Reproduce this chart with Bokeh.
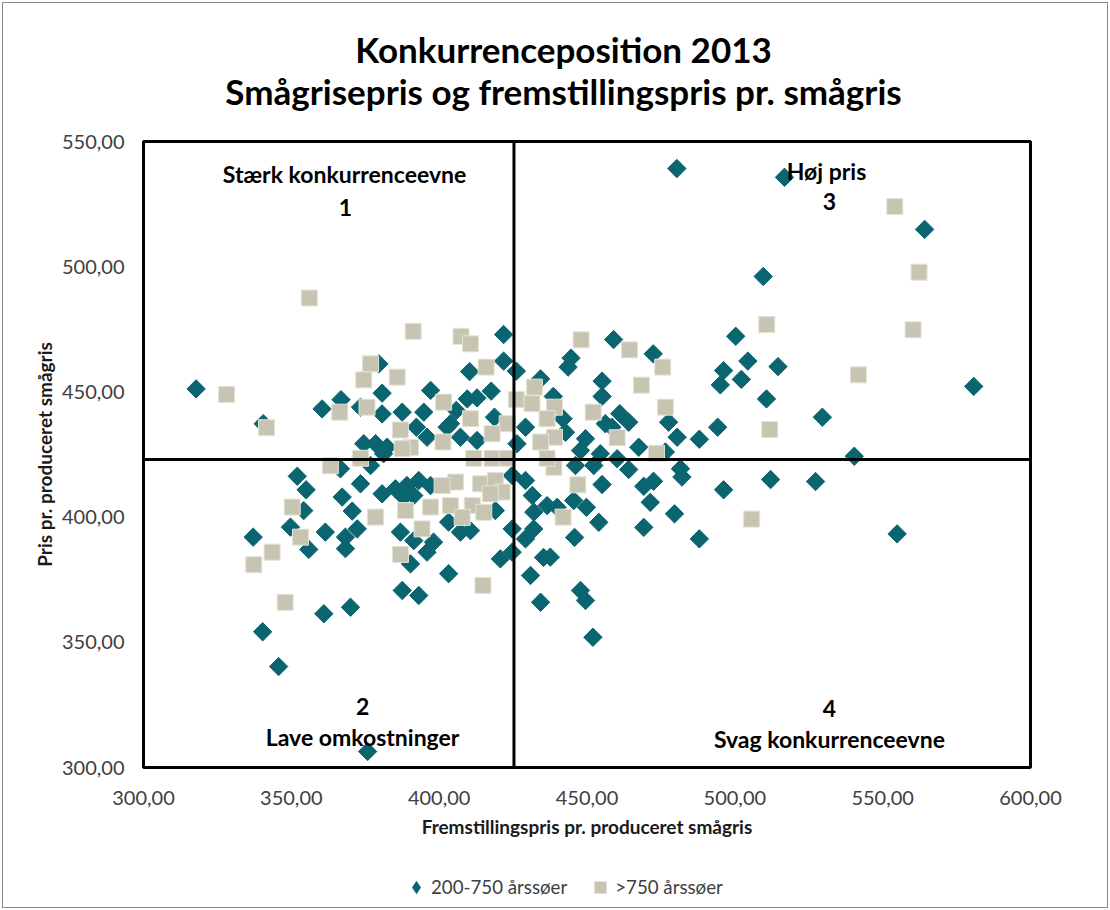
import math
from bokeh.plotting import figure
from bokeh.layouts import column
from bokeh.models import Range1d, Label, Legend, LegendItem, FixedTicker, Span
from bokeh.embed import file_html
from bokeh.resources import INLINE

# ---------------- data ----------------
title_line1 = "Konkurrenceposition 2013"
title_line2 = "Smågrisepris og fremstillingspris pr. smågris"
x_title = "Fremstillingspris pr. produceret smågris"
y_title = "Pris pr. produceret smågris"
series_names = ["200-750 årssøer", ">750 årssøer"]

x_ticks = [300, 350, 400, 450, 500, 550, 600]
y_ticks = [300, 350, 400, 450, 500, 550]

# quadrant dividers (averages)
cross_x = 425.3
cross_y = 423.0

# 200-750 årssøer (diamonds)
small_x = [480.4, 516.8, 564.2, 509.6, 500.3, 504.4, 496.2, 502.2, 495.1, 514.6, 510.7, 580.8,
           529.6, 494.2, 488.0, 540.4, 512.1, 496.2, 527.3, 488.0, 554.9,
           459.0, 472.4, 444.6, 443.6, 455.1, 455.1, 438.6, 441.9, 461.1, 464.1, 456.2, 477.6,
           480.5, 467.5, 449.5, 442.7, 476.5, 454.5, 447.8, 458.4,
           460.2, 464.1, 481.6, 482.1, 472.5, 469.2, 455.1, 452.3, 446.1, 471.4, 449.8, 445.5,
           439.9, 479.6, 454.0, 469.2, 445.8, 437.6, 447.8, 449.5, 452.0,
           421.8, 421.8, 410.3, 426.1, 434.3, 417.6, 409.5, 412.8, 405.8, 418.7, 429.2, 403.8,
           407.2, 426.3, 412.8,
           403.2, 407.2, 410.6, 419.0, 424.7, 429.2, 431.5, 432.0, 436.5, 424.7, 432.0, 429.2,
           424.7, 420.7, 435.3, 430.9, 403.2, 434.3,
           379.6, 380.7, 397.1, 366.8, 360.4, 373.4, 380.7, 387.5, 394.8, 392.3, 395.9, 374.5,
           378.5, 382.4, 402.7,
           381.2, 366.6, 376.8, 373.4, 397.1, 367.2, 380.7, 385.2, 389.1, 393.1, 388.0, 391.4,
           370.6, 361.5, 372.3, 368.3, 386.9, 391.4, 398.1, 368.3, 395.9, 390.3, 387.5, 393.1,
           370.0, 361.0,
           317.8, 340.5, 352.0, 355.0, 354.2, 349.7, 337.1, 355.9,
           340.3, 345.7, 375.8]
small_y = [539.2, 535.7, 514.9, 496.1, 472.2, 462.3, 458.5, 455.0, 452.8, 460.1, 447.2, 452.2,
           439.9, 435.9, 431.1, 424.3, 415.0, 410.9, 414.2, 391.3, 393.3,
           470.9, 465.2, 463.5, 459.9, 454.3, 448.2, 448.2, 439.3, 441.3, 437.9, 437.3, 437.9,
           431.9, 427.9, 431.3, 433.9, 426.0, 425.3, 426.6, 435.9,
           423.3, 419.0, 419.3, 416.0, 414.3, 412.3, 413.0, 420.6, 420.6, 405.9, 403.9, 406.6,
           403.9, 401.3, 397.9, 395.9, 391.9, 384.0, 370.7, 366.7, 352.0,
           472.9, 462.3, 458.1, 458.3, 455.2, 450.3, 447.2, 447.6, 442.6, 439.9, 435.9, 437.3,
           431.9, 429.3, 430.6,
           398.0, 394.0, 394.6, 402.6, 416.6, 414.6, 408.6, 402.0, 404.6, 395.3, 395.3, 391.3,
           386.0, 383.3, 383.9, 376.7, 377.4, 366.0,
           461.2, 449.5, 450.6, 446.9, 443.2, 443.9, 441.2, 441.9, 441.9, 435.9, 431.9, 429.3,
           429.3, 427.9, 435.9,
           425.3, 419.3, 420.6, 413.3, 412.6, 408.0, 409.3, 411.3, 412.6, 414.6, 408.0, 408.6,
           402.4, 394.0, 395.3, 392.0, 394.0, 390.6, 390.0, 387.4, 386.0, 381.3, 370.7, 368.7,
           364.0, 361.4,
           451.2, 437.3, 416.3, 410.9, 402.6, 396.0, 392.0, 387.1,
           354.2, 340.3, 306.4]

# >750 årssøer (squares)
large_x = [554.1, 562.3, 510.8, 560.3, 541.8, 511.8, 505.7,
           448.0, 464.4, 475.6, 468.4, 452.1, 476.5, 460.2, 473.5, 439.0, 439.0,
           438.8, 446.9, 441.9,
           407.4, 410.6, 415.9, 432.2, 426.1, 431.4, 410.6, 423.0, 436.5, 417.9, 434.3, 401.3,
           401.5, 411.7, 417.9, 423.0, 436.5,
           405.5, 414.0, 419.0, 421.3, 417.3, 403.8, 411.2, 415.1, 407.8, 414.8,
           391.2, 376.8, 374.5, 385.8, 366.4, 375.6, 386.9, 390.3, 387.5, 373.4, 363.2,
           401.0, 388.6, 397.1, 394.2, 378.5, 386.9,
           328.1, 341.6, 350.3, 353.1, 343.5, 337.3, 356.1, 347.9]
large_y = [524.0, 497.8, 476.9, 474.8, 456.8, 435.0, 399.2,
           470.8, 466.8, 459.9, 452.7, 441.9, 443.9, 431.7, 425.5, 443.9, 431.9,
           419.9, 412.9, 400.0,
           472.2, 469.2, 459.9, 451.9, 447.0, 445.3, 439.3, 437.3, 439.3, 433.3, 430.0, 430.0,
           445.9, 423.5, 423.5, 423.5, 423.5,
           414.0, 413.3, 414.6, 410.0, 409.3, 404.6, 404.6, 401.9, 399.9, 372.7,
           474.2, 461.2, 454.8, 455.9, 441.9, 443.9, 434.8, 427.8, 427.3, 423.5, 420.5,
           412.6, 402.6, 404.0, 395.3, 400.0, 385.1,
           449.0, 435.7, 404.0, 392.0, 386.0, 381.0, 487.5, 366.0]

quadrant_texts = [
    ("Stærk konkurrenceevne", 368.0, 537.2),
    ("1", 368.3, 523.6),
    ("Høj pris", 531.0, 538.4),
    ("3", 532.0, 526.0),
    ("2", 374.1, 324.4),
    ("Lave omkostninger", 374.1, 312.0),
    ("4", 532.0, 323.6),
    ("Svag konkurrenceevne", 532.0, 311.2),
]

# ---------------- styling ----------------
FONT = "Lato"
TEAL = "#0a6570"
BEIGE = "#c7c5b1"
SQ_EDGE = "#e4e2d6"
W = 1104

# ---- title strip (its frame is aligned with the main plot frame) ----
t = figure(width=W, height=115, output_backend="svg", toolbar_location=None,
           x_range=Range1d(143, 1030), y_range=Range1d(0, 115),
           x_axis_type=None, y_axis_type=None,
           min_border_left=0, min_border_right=0, min_border_top=0, min_border_bottom=0)
t.outline_line_color = None
t.grid.visible = False
t.add_layout(Label(x=563, y=70, text=title_line1, text_align="center", text_baseline="middle",
                   text_font=FONT, text_font_style="bold", text_font_size="35px", text_color="black"))
t.add_layout(Label(x=563, y=28, text=title_line2, text_align="center", text_baseline="middle",
                   text_font=FONT, text_font_style="bold", text_font_size="35px", text_color="black"))

# ---- main scatter ----
p = figure(width=W, height=729, output_backend="svg", toolbar_location=None,
           x_range=Range1d(300, 600), y_range=Range1d(300, 550),
           min_border_left=140, min_border_right=77, min_border_top=23, min_border_bottom=80)
p.outline_line_color = "black"
p.outline_line_width = 3
p.xgrid.visible = False
p.ygrid.visible = False

for ax, ticks in ((p.xaxis[0], x_ticks), (p.yaxis[0], y_ticks)):
    ax.ticker = FixedTicker(ticks=ticks)
    ax.major_label_overrides = {t_: f"{t_:.2f}".replace(".", ",") for t_ in ticks}
    ax.axis_line_color = None
    ax.major_tick_line_color = None
    ax.minor_tick_line_color = None
    ax.major_label_text_font = FONT
    ax.major_label_text_font_size = "20px"
    ax.major_label_text_color = "#404040"
    ax.axis_label_text_font = FONT
    ax.axis_label_text_font_style = "bold"
    ax.axis_label_text_font_size = "19px"
    ax.axis_label_text_color = "#1a1a1a"

p.xaxis.axis_label = x_title
p.yaxis.axis_label = y_title
p.xaxis.major_label_standoff = 17
p.xaxis.axis_label_standoff = 7
p.yaxis.major_label_standoff = 13
p.yaxis.axis_label_standoff = 3

p.add_layout(Span(location=cross_x, dimension="height", line_color="black", line_width=3))
p.add_layout(Span(location=cross_y, dimension="width", line_color="black", line_width=3))

p.scatter(small_x, small_y, marker="square", angle=math.pi / 4, size=13,
          fill_color=TEAL, line_color=TEAL, line_width=1)
p.scatter(large_x, large_y, marker="square", size=16,
          fill_color=BEIGE, line_color=SQ_EDGE, line_width=1)

for txt, lx, ly in quadrant_texts:
    p.add_layout(Label(x=lx, y=ly, text=txt, text_align="center", text_baseline="middle",
                       text_font=FONT, text_font_style="bold", text_font_size="23px",
                       text_color="black"))

# ---- legend strip (same series, outside this strip's visible range) ----
q = figure(width=W, height=60, output_backend="svg", toolbar_location=None,
           x_range=Range1d(0, 1), y_range=Range1d(0, 1),
           x_axis_type=None, y_axis_type=None,
           min_border_left=4, min_border_right=32, min_border_top=16, min_border_bottom=4)
q.outline_line_color = None
q.grid.visible = False
lg_small = q.scatter(small_x, small_y, marker="diamond", size=14, fill_color=TEAL, line_color=TEAL)
lg_large = q.scatter(large_x, large_y, marker="square", size=12, fill_color=BEIGE, line_color=SQ_EDGE)
legend = Legend(items=[LegendItem(label=series_names[0], renderers=[lg_small]),
                       LegendItem(label=series_names[1], renderers=[lg_large])],
                location=(258, 1), orientation="horizontal", margin=0,
                label_text_font=FONT, label_text_font_size="18.7px", label_text_color="#404040",
                border_line_color=None, background_fill_alpha=0,
                glyph_width=30, glyph_height=30, label_standoff=0, spacing=18, padding=4)
q.add_layout(legend)

layout = column(t, p, q, spacing=0, styles={"margin": "2px", "border": "1px solid #8a8a8a"})

open("out.html", "w").write(file_html(layout, INLINE))
